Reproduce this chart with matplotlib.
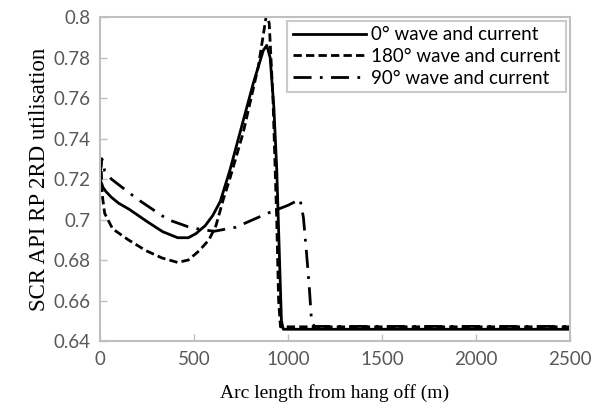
import matplotlib
matplotlib.use("Agg")
import matplotlib.pyplot as plt

# arc length (m) and utilisation for each load case
x_0deg = [0, 15, 30, 60, 100, 156, 250, 333, 413, 470, 510, 560, 600, 640, 690,
          745, 816, 869, 887, 905, 925, 940, 955, 965, 975, 1200, 2500]
u_0deg = [0.720, 0.716, 0.714, 0.711, 0.708, 0.705, 0.699, 0.694, 0.691, 0.691,
          0.693, 0.697, 0.702, 0.709, 0.724, 0.743, 0.7675, 0.7836, 0.786, 0.780,
          0.755, 0.725, 0.680, 0.650, 0.6458, 0.6458, 0.6458]

x_180deg = [0, 5, 12, 25, 67, 150, 245, 330, 413, 470, 528, 580, 617, 656, 688,
            762, 842, 870, 885, 900, 920, 940, 950, 960, 1200, 2500]
u_180deg = [0.730, 0.728, 0.712, 0.703, 0.6954, 0.690, 0.6846, 0.681, 0.6788, 0.680,
            0.6846, 0.690, 0.697, 0.710, 0.7193, 0.743, 0.7755, 0.792, 0.801, 0.797,
            0.760, 0.700, 0.660, 0.647, 0.647, 0.647]

x_90deg = [0, 10, 25, 60, 200, 360, 466, 540, 608, 723, 892, 1000, 1064, 1082,
           1099, 1113, 1125, 1140, 1200, 2500]
u_90deg = [0.722, 0.730, 0.724, 0.720, 0.710, 0.700, 0.6965, 0.695, 0.6942, 0.6962,
           0.7031, 0.707, 0.710, 0.701, 0.683, 0.667, 0.650, 0.6472, 0.6472, 0.6472]

labels = ['0° wave and current', '180° wave and current', '90° wave and current']

fig = plt.figure(figsize=(6.03, 4.11), dpi=100)
ax = fig.add_axes([100 / 603, 70 / 411, 470 / 603, 324 / 411])

ax.plot(x_0deg, u_0deg, color='black', lw=2.0, ls='-', label=labels[0])
ax.plot(x_180deg, u_180deg, color='black', lw=2.0, ls=(0, (3.0, 1.5)), label=labels[1])
ax.plot(x_90deg, u_90deg, color='black', lw=2.0, ls=(0, (6.5, 3, 1, 3)), label=labels[2])

ax.set_xlim(0, 2500)
ax.set_ylim(0.64, 0.8)
ax.set_xticks(range(0, 2501, 500))
ax.set_yticks([0.64, 0.66, 0.68, 0.7, 0.72, 0.74, 0.76, 0.78, 0.8])
ax.set_yticklabels(['0.64', '0.66', '0.68', '0.7', '0.72', '0.74', '0.76', '0.78', '0.8'])

for s in ax.spines.values():
    s.set_color('#bfbfbf')
    s.set_linewidth(1.5)
ax.tick_params(direction='in', length=5, width=1, color='#bfbfbf',
               labelcolor='#595959', labelsize=13.5, pad=7)
for t in ax.get_xticklabels() + ax.get_yticklabels():
    t.set_family('Lato')

ax.set_xlabel('Arc length from hang off (m)', family='Liberation Serif', fontsize=14, labelpad=12)
ax.set_ylabel('SCR API RP 2RD utilisation', family='Liberation Serif', fontsize=16.5, labelpad=2)

leg = ax.legend(loc='upper right', frameon=True, fancybox=False, handlelength=3.9,
                borderaxespad=0.2, labelspacing=0.25, handletextpad=0.3, borderpad=0.3,
                prop={'family': 'Lato', 'size': 13.5})
leg.get_frame().set_edgecolor('#bfbfbf')
leg.get_frame().set_linewidth(1.5)

fig.savefig('out.png', dpi=100)
